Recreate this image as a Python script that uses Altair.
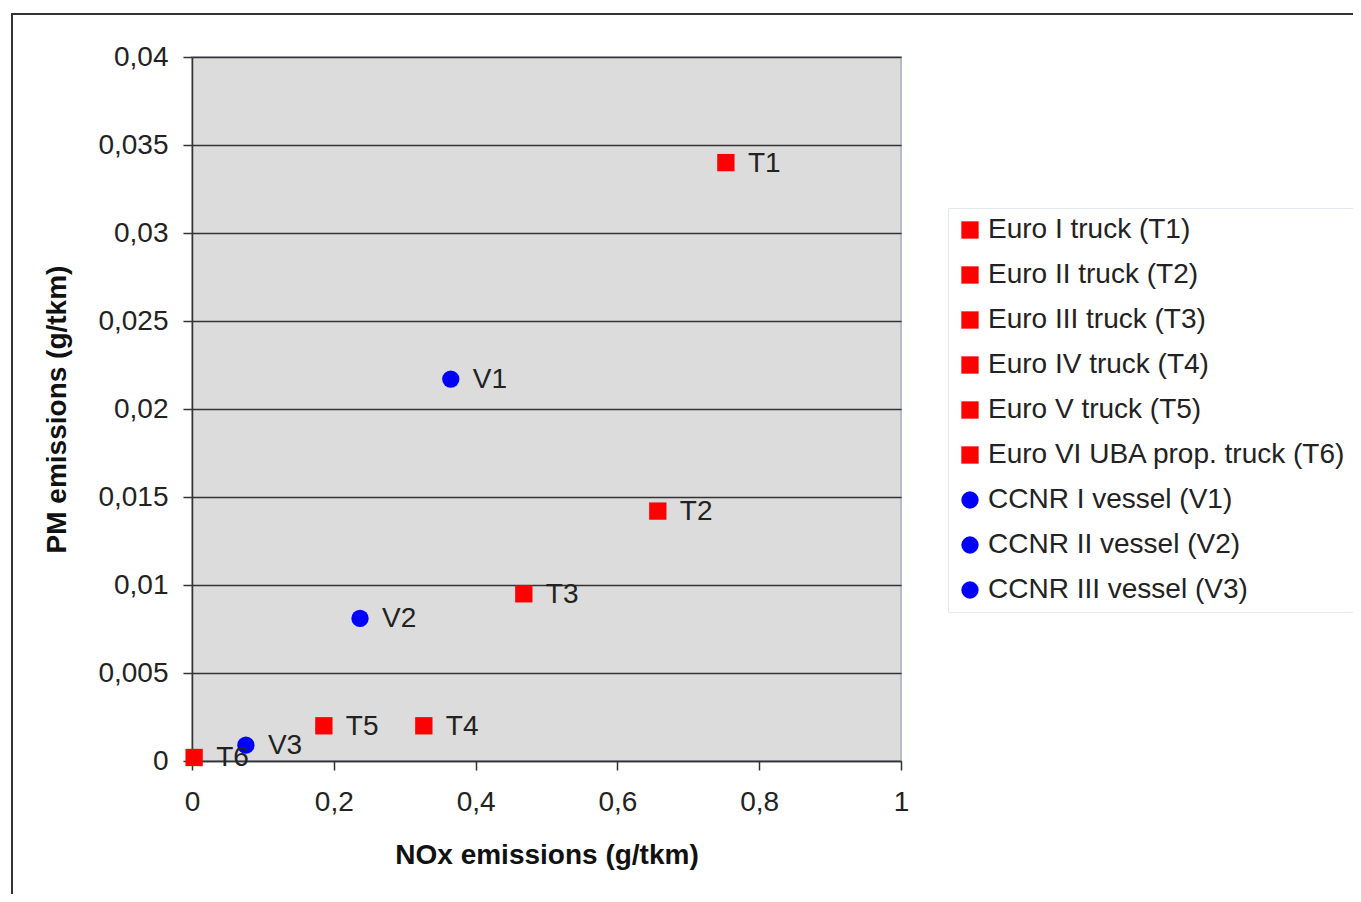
import altair as alt
import pandas as pd

labels = ["Euro I truck (T1)", "Euro II truck (T2)", "Euro III truck (T3)",
          "Euro IV truck (T4)", "Euro V truck (T5)", "Euro VI UBA prop. truck (T6)",
          "CCNR I vessel (V1)", "CCNR II vessel (V2)", "CCNR III vessel (V3)"]
codes = ["T1", "T2", "T3", "T4", "T5", "T6", "V1", "V2", "V3"]
nox = [0.753, 0.657, 0.468, 0.327, 0.186, 0.003, 0.365, 0.237, 0.076]
pm = [0.0340, 0.0142, 0.0095, 0.0020, 0.0020, 0.0002, 0.0217, 0.0081, 0.0009]
colors = ["#ff0000"] * 6 + ["#0000ff"] * 3
shapes = ["square"] * 6 + ["circle"] * 3

df = pd.DataFrame({"label": labels, "code": codes, "nox": nox, "pm": pm})

FONT = "Liberation Sans"

x = alt.X("nox:Q", scale=alt.Scale(domain=[0, 1], nice=False),
          axis=alt.Axis(title="NOx emissions (g/tkm)", values=[0, 0.2, 0.4, 0.6, 0.8, 1],
                        labelExpr="replace(format(datum.value, ''), '.', ',')",
                        grid=False, domainColor="#333", tickColor="#333", tickSize=9,
                        labelFlush=False, labelPadding=18, titlePadding=25))
y = alt.Y("pm:Q", scale=alt.Scale(domain=[0, 0.04], nice=False),
          axis=alt.Axis(title="PM emissions (g/tkm)",
                        values=[0, 0.005, 0.01, 0.015, 0.02, 0.025, 0.03, 0.035, 0.04],
                        labelExpr="replace(format(datum.value, ''), '.', ',')",
                        grid=True, gridColor="#333", gridWidth=1.5,
                        domainColor="#333", tickColor="#333", tickSize=9,
                        labelFlush=False, labelPadding=15, titlePadding=26))

points = alt.Chart(df).mark_point(filled=True, opacity=1, size=300).encode(
    x=x, y=y,
    color=alt.Color("label:N", scale=alt.Scale(domain=labels, range=colors),
                    legend=alt.Legend(title=None, orient="none", legendX=756, legendY=151)),
    shape=alt.Shape("label:N", scale=alt.Scale(domain=labels, range=shapes)),
)

text = alt.Chart(df).mark_text(align="left", baseline="middle", dx=22, dy=1,
                               fontSize=28, font=FONT, color="#222").encode(
    x="nox:Q", y="pm:Q", text="code:N")

frame = alt.Chart(alt.Data(values=[{}])).mark_rect(
    fillOpacity=0, stroke="#333", strokeWidth=2).encode(
    x=alt.value(-180), x2=alt.value(1180), y=alt.value(-43), y2=alt.value(843))

chart = alt.layer(frame, points, text).properties(
    width=709, height=704,
    autosize=alt.AutoSizeParams(type="none"),
    padding={"left": 184, "top": 49, "right": 452, "bottom": 133},
).configure_view(
    fill="#dcdcdc", stroke="#b8bcc8", strokeWidth=2
).configure_axis(
    labelFont=FONT, titleFont=FONT, labelFontSize=28, titleFontSize=28,
    labelColor="#222", titleColor="#111", titleFontWeight="bold", domainWidth=1.5,
    tickWidth=1.5
).configure_legend(
    labelFont=FONT, labelFontSize=28, labelColor="#222",
    fillColor="white", strokeColor="#e4e8f0", padding=8,
    symbolSize=300, rowPadding=17, labelOffset=4, labelLimit=600,
    symbolStrokeWidth=0
)

chart.save("out.html", embed_options={"renderer": "svg", "actions": False})
